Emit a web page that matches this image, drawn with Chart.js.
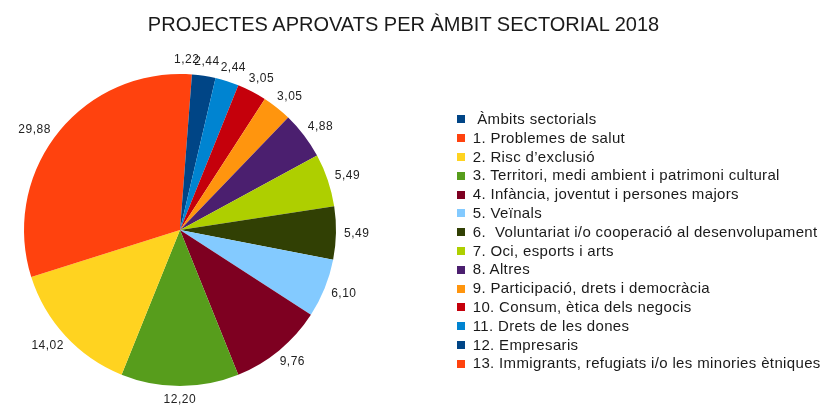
<!DOCTYPE html>
<html>
<head>
<meta charset="utf-8">
<script src="https://cdn.jsdelivr.net/npm/chart.js@4/dist/chart.umd.min.js"></script>
<style>
  html, body { margin: 0; padding: 0; background: #fff; }
  #wrap { position: relative; width: 823px; height: 406px; overflow: hidden; }
  #title {
    position: absolute; left: 0; top: 11.6px; width: 807px;
    text-align: center; white-space: nowrap;
    font: 20px/24px 'Liberation Sans', Arial, sans-serif;
    color: #1a1a1a;
  }
  #legend {
    position: absolute; left: 457px; top: 110px;
    margin: 0; padding: 0; list-style: none;
    font-family: 'Liberation Sans', Arial, sans-serif;
    font-size: 15px; letter-spacing: 0.35px; color: #1a1a1a;
  }
  #legend li { position: relative; height: 18.8px; line-height: 18.8px; padding-left: 15.7px; white-space: pre; }
  #legend li span { position: absolute; left: 0; top: 5.4px; width: 8px; height: 8px; }
  canvas { position: absolute; left: 0; top: 0; }
</style>
</head>
<body>
<div id="wrap">
  <canvas id="pieChart" width="823" height="406"></canvas>
  <div id="title">PROJECTES APROVATS PER ÀMBIT SECTORIAL 2018</div>
  <ul id="legend"></ul>
</div>
<script>
// legend order (LibreOffice draws these counterclockwise from 12 o'clock)
const categories = [
  ' Àmbits sectorials',
  '1. Problemes de salut',
  '2. Risc d\u2019exclusió',
  '3. Territori, medi ambient i patrimoni cultural',
  '4. Infància, joventut i persones majors',
  '5. Veïnals',
  '6.  Voluntariat i/o cooperació al desenvolupament',
  '7. Oci, esports i arts',
  '8. Altres',
  '9. Participació, drets i democràcia',
  '10. Consum, ètica dels negocis',
  '11. Drets de les dones',
  '12. Empresaris',
  '13. Immigrants, refugiats i/o les minories ètniques'
];
const percentages = [null, 29.88, 14.02, 12.20, 9.76, 6.10, 5.49, 5.49, 4.88, 3.05, 3.05, 2.44, 2.44, 1.22];
const colors = [
  '#004586', '#ff420e', '#ffd320', '#579d1c', '#7e0021', '#83caff', '#314004',
  '#aecf00', '#4b1f6f', '#ff950e', '#c5000b', '#0084d1', '#004586', '#ff420e'
];

// Chart.js goes clockwise, so feed the slices in reverse
const rev = arr => arr.slice().reverse();

const sliceLabels = {
  id: 'sliceLabels',
  afterDatasetsDraw(chart) {
    const ctx = chart.ctx;
    const meta = chart.getDatasetMeta(0);
    const data = chart.data.datasets[0].data;
    ctx.save();
    ctx.font = '12px "Liberation Sans", Arial, sans-serif';
    if ('letterSpacing' in ctx) ctx.letterSpacing = '0.5px';
    ctx.fillStyle = '#222';
    ctx.textAlign = 'center';
    ctx.textBaseline = 'middle';
    meta.data.forEach((arc, i) => {
      const v = data[i];
      if (v == null) return;
      const p = arc.getProps(['x', 'y', 'startAngle', 'endAngle', 'outerRadius'], true);
      const mid = (p.startAngle + p.endAngle) / 2;
      const cos = Math.cos(mid);
      const sin = Math.sin(mid);
      const d = p.outerRadius + 8;
      const text = v.toFixed(2).replace('.', ',');
      const w = ctx.measureText(text).width;
      const x = p.x + cos * d + cos * w / 2;
      const y = p.y + sin * d + sin * 6;
      ctx.fillText(text, x, y);
    });
    ctx.restore();
  }
};

const chart = new Chart(document.getElementById('pieChart'), {
  type: 'pie',
  data: {
    labels: rev(categories),
    datasets: [{
      data: rev(percentages),
      backgroundColor: rev(colors),
      borderWidth: 0
    }]
  },
  options: {
    responsive: false,
    animation: false,
    layout: { padding: { left: 24, right: 487, top: 74, bottom: 20 } },
    plugins: {
      legend: { display: false },
      title: { display: false },
      tooltip: { enabled: false }
    }
  },
  plugins: [sliceLabels]
});

const legendEl = document.getElementById('legend');
legendEl.innerHTML = categories.map((c, i) =>
  `<li><span style="background:${colors[i]}"></span>${c}</li>`
).join('');
</script>
</body>
</html>
